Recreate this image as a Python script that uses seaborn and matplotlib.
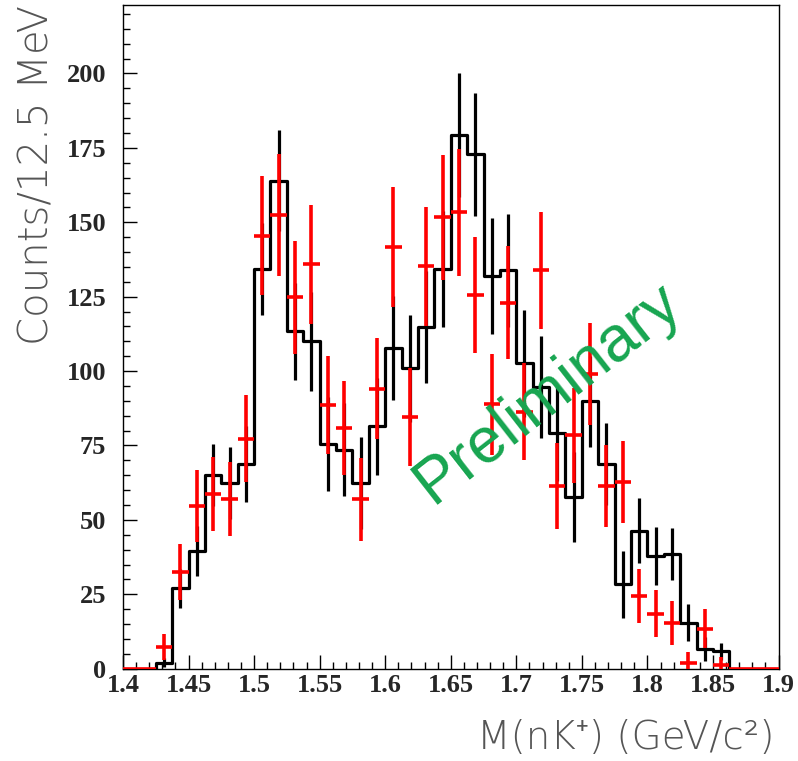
import numpy as np
import pandas as pd
import matplotlib
matplotlib.use("Agg")
import matplotlib.pyplot as plt
from matplotlib.ticker import MultipleLocator
import seaborn as sns

# ---------------- data ----------------
mass_lo = 1.4
mass_hi = 1.9
bin_width = 0.0125
n_bins = 40

# black histogram (MC / reference) counts per 12.5 MeV bin and errors
mc_counts = [0, 0, 2, 27, 39.5, 65, 62.4, 68.8, 134.2, 164, 113.3, 110, 75.5, 73.6,
             62.4, 81.5, 107.8, 101, 114.8, 134.3, 179.3, 172.8, 131.9, 133.8, 102.6,
             94.6, 79.2, 57.8, 89.8, 68.9, 28.3, 46.4, 37.8, 38.6, 15.5, 6.5, 5.8, 0, 0, 0]
mc_err = [0, 0, 1.5, 6.5, 8.5, 10.5, 12, 12.7, 15.4, 17, 16.3, 16.6, 15.7, 15.6,
          15.6, 16.3, 17.4, 18, 18.7, 19.6, 20.7, 20.7, 19.6, 19, 18, 17.2, 16.2,
          15.1, 15.3, 13.8, 11.4, 11, 9.7, 8.7, 6.1, 4, 3, 0, 0, 0]

# red points (data) counts and errors
data_counts = [0, 0, 7.3, 32.5, 54.6, 58.6, 57, 77.3, 145.4, 152.4, 124.8, 135.9, 88.7,
               80.9, 56.9, 94.1, 141.7, 84.6, 135.2, 151.7, 153.4, 125.7, 88.8, 122.9,
               86.3, 133.9, 61.4, 78.4, 99.1, 61.3, 62.7, 24.4, 18.5, 15.3, 1.9, 13.4,
               1.3, 0, 0, 0]
data_err = [0, 0, 4.5, 9.4, 12, 12.5, 12.5, 14.6, 20, 20.5, 19, 20, 16.5, 15.8, 14,
            17, 20.3, 16.5, 20, 21, 21.3, 19.5, 17, 19, 16.3, 19.6, 14.3, 16, 17.2,
            13.7, 13.7, 9.2, 8, 7.3, 3.7, 6.5, 2.5, 0, 0, 0]

x_tick_labels = ["1.4", "1.45", "1.5", "1.55", "1.6", "1.65", "1.7", "1.75",
                 "1.8", "1.85", "1.9"]

edges = [mass_lo + bin_width * i for i in range(n_bins + 1)]
centers = [mass_lo + bin_width * (i + 0.5) for i in range(n_bins)]

df = pd.DataFrame({"mass": centers, "mc": mc_counts, "mc_err": mc_err,
                   "data": data_counts, "data_err": data_err})

# ---------------- figure ----------------
sns.set_style("white")
plt.rcParams["font.family"] = ["DejaVu Sans", "Noto Sans"]

fig = plt.figure(figsize=(7.98, 7.61), dpi=100)
ax = fig.add_axes([123 / 798, 1 - 668.7 / 761, (778.5 - 123) / 798, (668.7 - 5) / 761])

sns.histplot(data=df, x="mass", weights="mc", bins=edges, element="step",
             fill=False, color="black", linewidth=2.3, ax=ax, zorder=2)
ax.errorbar(df["mass"], df["mc"], yerr=df["mc_err"], fmt="none",
            ecolor="black", elinewidth=2.3, capsize=0, zorder=3)
ax.errorbar(df["mass"], df["data"], xerr=bin_width / 2, yerr=df["data_err"],
            fmt="none", ecolor="#ff0000", elinewidth=2.6, capsize=0, zorder=4)

ax.set_xlim(mass_lo, mass_hi)
ax.set_ylim(0, 223)

ax.xaxis.set_minor_locator(MultipleLocator(0.01))
ax.yaxis.set_major_locator(MultipleLocator(25))
ax.yaxis.set_minor_locator(MultipleLocator(5))
ax.tick_params(which="both", direction="in", top=False, right=False,
               bottom=True, left=True, color="black", width=1)
ax.tick_params(which="major", length=10)
ax.tick_params(which="minor", length=5)
ax.tick_params(axis="x", which="major", pad=4)
ax.tick_params(axis="y", which="major", pad=12)

ax.set_xticks([mass_lo + 0.05 * i for i in range(len(x_tick_labels))])
ax.set_xticklabels(x_tick_labels)
ax.set_ylabel("")
for lab in ax.get_xticklabels():
    lab.set_fontfamily("Liberation Serif")
    lab.set_fontweight("bold")
    lab.set_fontsize(19)
for lab in ax.get_yticklabels():
    lab.set_fontfamily("Liberation Serif")
    lab.set_fontweight("bold")
    lab.set_fontsize(19)

for sp in ax.spines.values():
    sp.set_color("black")
    sp.set_linewidth(1.0)

ax.set_ylabel("Counts/12.5 MeV", fontsize=29, color="#555555",
              fontweight="light", loc="top",
              family=["DejaVu Sans", "Noto Sans"])
ax.yaxis.set_label_coords(-0.131, 1.0)
ax.yaxis.label.set_va("center")

ax.set_xlabel("M(nK⁺) (GeV/c²)", fontsize=28, color="#555555",
              fontweight="light", loc="right",
              family=["DejaVu Sans", "Noto Sans", "Liberation Sans"])
ax.xaxis.set_label_coords(0.994, -0.104)
ax.xaxis.label.set_va("center")

ax.text(0.648, 0.416, "Preliminary", transform=ax.transAxes, rotation=38,
        fontsize=46, color="#17a550", family="Liberation Sans",
        ha="center", va="center", zorder=10, rotation_mode="anchor")

fig.savefig("out.png", dpi=100)
